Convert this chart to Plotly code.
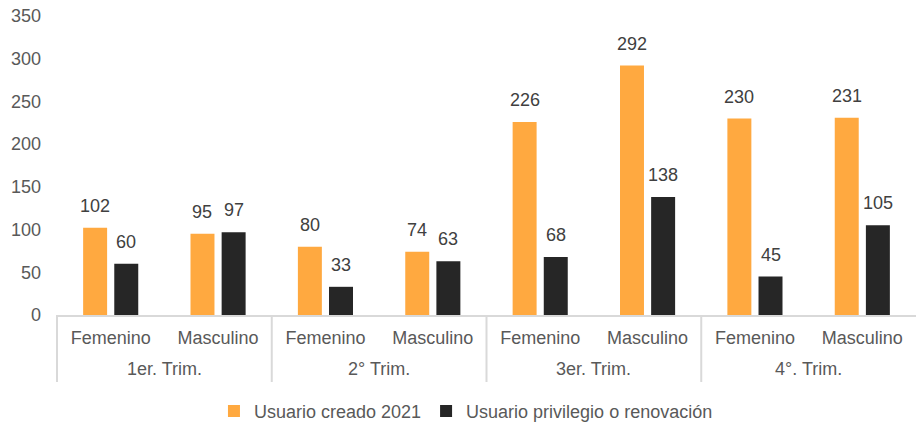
import plotly.graph_objects as go

trimestres = ["1er. Trim.", "2° Trim.", "3er. Trim.", "4°. Trim."]
sexo = ["Femenino", "Masculino"]
creado_2021 = [102, 95, 80, 74, 226, 292, 230, 231]
privilegio = [60, 97, 33, 63, 68, 138, 45, 105]

# one category per (trimestre, sexo) pair
claves = [f"{t}|{s}" for t in trimestres for s in sexo]
etiquetas = [s for t in trimestres for s in sexo]

fig = go.Figure()

fig.add_trace(go.Bar(
    x=claves,
    y=creado_2021,
    name="Usuario creado 2021",
    marker_color="#FFA940",
))

fig.add_trace(go.Bar(
    x=claves,
    y=privilegio,
    name="Usuario privilegio o renovación",
    marker_color="#262626",
))

# data labels above the bars
for valores, dx in [(creado_2021, -15.6), (privilegio, 15.6)]:
    for c, v in zip(claves, valores):
        fig.add_annotation(x=c, y=v, text=str(v), showarrow=False,
                           xanchor="center", yanchor="bottom",
                           xshift=dx, yshift=10,
                           font=dict(size=18, color="#404040"))

# second level labels (trimestre) and dividers
for g, t in enumerate(trimestres):
    fig.add_annotation(x=2 * g + 0.5, y=-0.181, xref="x", yref="paper",
                       text=t, showarrow=False, yanchor="middle",
                       font=dict(size=18, color="#595959"))
    fig.add_shape(type="line", xref="x", yref="paper",
                  x0=2 * g - 0.5, x1=2 * g - 0.5, y0=0, y1=-0.224,
                  line=dict(color="#D9D9D9", width=2))

fig.update_layout(
    template="none",
    width=916,
    height=423,
    margin=dict(l=56, r=0, t=16, b=108, autoexpand=False),
    plot_bgcolor="white",
    paper_bgcolor="white",
    font=dict(family="Liberation Sans, Arial", size=18, color="#595959"),
    barmode="group",
    bargap=0.42,
    bargroupgap=0.23,
    showlegend=True,
    legend=dict(orientation="h", x=0.4767, xanchor="center", y=-0.26, yanchor="top",
                itemwidth=30, font=dict(size=18, color="#595959"),
                traceorder="normal"),
)

fig.update_xaxes(
    type="category",
    automargin=False,
    tickmode="array",
    tickvals=claves,
    ticktext=etiquetas,
    showline=True,
    linecolor="#D9D9D9",
    linewidth=2,
    showgrid=False,
    ticks="",
    ticklabelstandoff=5,
    tickfont=dict(size=18, color="#595959"),
)

fig.update_yaxes(
    automargin=False,
    range=[0, 350],
    dtick=50,
    showgrid=False,
    zeroline=False,
    showline=False,
    ticks="",
    ticklabelstandoff=14,
    tickfont=dict(size=18, color="#595959"),
)

fig.write_html("out.html", config={"displayModeBar": False},
               post_script="document.body.style.margin='0';")
